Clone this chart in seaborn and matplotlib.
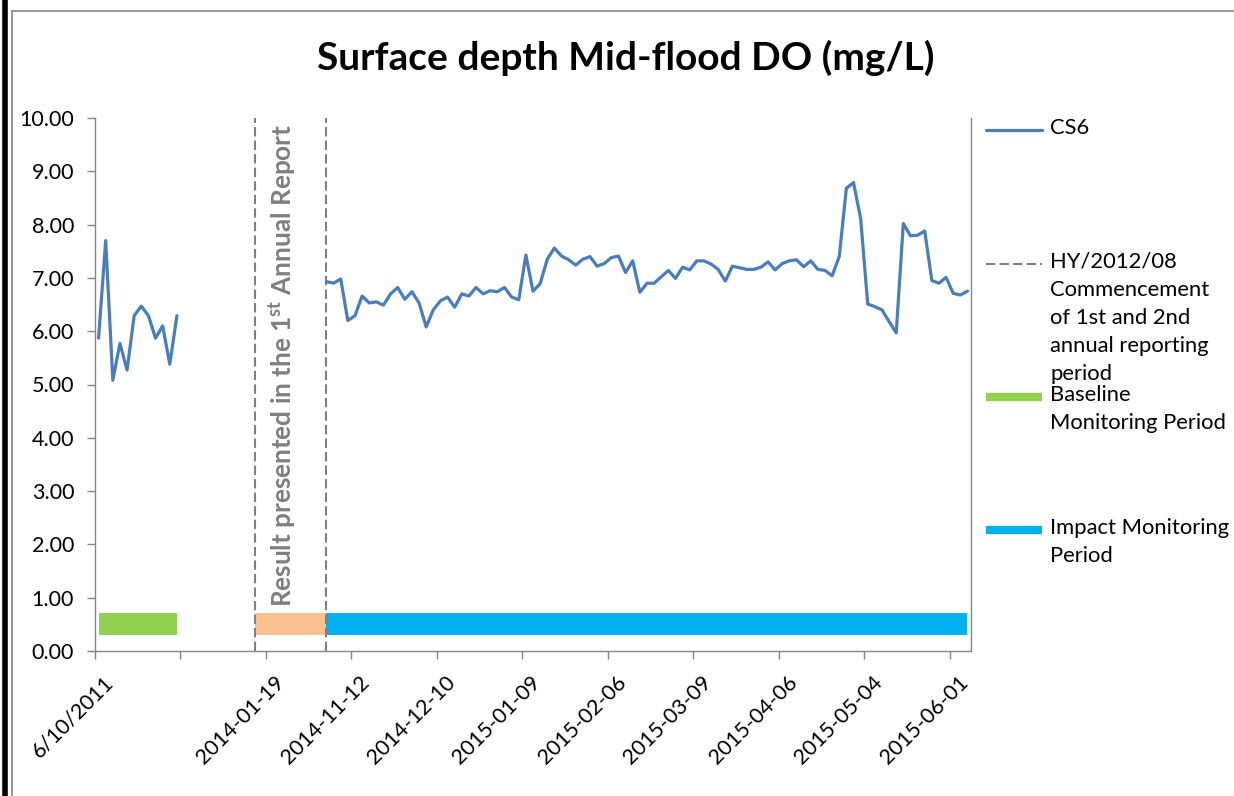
#!/usr/bin/env python
# coding: utf-8
#
import numpy as np
import pandas as pd
import seaborn as sb
from matplotlib import pyplot as plt
from matplotlib.lines import Line2D
from matplotlib.transforms import ScaledTranslation
#
# DO readings (mg/L) at CS6
baseline_do = [5.87, 7.70, 5.08, 5.77, 5.27, 6.29, 6.47, 6.29, 5.87, 6.10, 5.38, 6.29]
impact_do = [6.93, 6.90, 6.98, 6.20, 6.29, 6.66, 6.53, 6.55, 6.49, 6.70,
             6.82, 6.60, 6.74, 6.53, 6.08, 6.40, 6.57, 6.64, 6.45, 6.70,
             6.66, 6.82, 6.70, 6.76, 6.74, 6.82, 6.64, 6.59, 7.43, 6.75,
             6.89, 7.35, 7.56, 7.41, 7.34, 7.24, 7.35, 7.40, 7.22, 7.27,
             7.38, 7.41, 7.10, 7.32, 6.73, 6.90, 6.90, 7.02, 7.14, 6.99,
             7.20, 7.15, 7.32, 7.32, 7.26, 7.16, 6.94, 7.22, 7.19, 7.16,
             7.16, 7.20, 7.30, 7.15, 7.27, 7.32, 7.34, 7.21, 7.32, 7.16,
             7.14, 7.04, 7.40, 8.68, 8.79, 8.12, 6.51, 6.46, 6.40, 6.18,
             5.97, 8.02, 7.79, 7.80, 7.88, 6.95, 6.90, 7.01, 6.71, 6.68,
             6.75]
#
# category axis layout (Excel style: one slot per sampling date)
n_cat = 123
baseline_start = 0
report_start = 22
impact_start = 32
tick_step = 12
tick_labels = ['6/10/2011', '', '2014-01-19', '2014-11-12', '2014-12-10',
               '2015-01-09', '2015-02-06', '2015-03-09', '2015-04-06',
               '2015-05-04', '2015-06-01']
#
sb.set_theme(style="white")
plt.rcParams['font.family'] = ['Lato', 'DejaVu Sans']
plt.rcParams['mathtext.default'] = 'regular'
#
pos_base = np.arange(len(baseline_do)) + baseline_start + 0.5
pos_imp = np.arange(len(impact_do)) + impact_start + 0.5
df = pd.DataFrame({'pos': np.concatenate([pos_base, pos_imp]),
                   'do': baseline_do + impact_do,
                   'seg': ['baseline'] * len(baseline_do) + ['impact'] * len(impact_do)})
#
W, H = 1234, 796
def px(x, y):
    return x / W, 1 - y / H
#
fig = plt.figure(figsize=(W / 100, H / 100), dpi=100)
ax = fig.add_axes([95 / W, 1 - 651 / H, (971 - 95) / W, (651 - 118) / H])
#
# period bars
green, peach, cyan = '#92D050', '#FAC090', '#00B0F0'
periods = [(baseline_start, baseline_start + len(baseline_do) - 1, green),
           (report_start, impact_start, peach),
           (impact_start, impact_start + len(impact_do) - 1, cyan)]
for a, b, c in periods:
    ax.plot([a + 0.5, b + 0.5], [0.5, 0.5], color=c, lw=15.8, solid_capstyle='butt')
#
# reporting period boundaries
ax.vlines([report_start + 0.5, impact_start + 0.5], 0, 10, colors='#808080',
          linestyles=(0, (4.5, 2)), lw=1.5)
ax.text(26.4, 0.83, r'Result presented in the 1$^{st}$ Annual Report', rotation=90,
        ha='center', va='bottom', color='#7F7F7F', fontsize=18.8, fontweight='bold')
#
sb.lineplot(data=df, x='pos', y='do', units='seg', estimator=None,
            color='#4A7EBB', lw=2.3, ax=ax, legend=False)
#
ax.set_xlim(0, n_cat)
ax.set_ylim(0, 10)
ax.set_xticks(np.arange(len(tick_labels)) * tick_step)
ax.set_xticklabels(tick_labels, rotation=45, ha='right', rotation_mode='anchor')
ax.set_yticks(np.arange(0, 11))
ax.set_yticklabels(['%.2f' % v for v in range(11)])
ax.set_xlabel('')
ax.set_ylabel('')
for s in ['left', 'bottom', 'right']:
    ax.spines[s].set_color('#868686')
    ax.spines[s].set_linewidth(1)
ax.spines['top'].set_visible(False)
ax.tick_params(axis='both', direction='out', length=6, width=1, color='#868686',
               labelcolor='black')
ax.tick_params(axis='y', left=True, pad=9, labelsize=15.5)
ax.tick_params(axis='x', bottom=True, pad=9, labelsize=15.5)
shift = ScaledTranslation(8 / 100, 0, fig.dpi_scale_trans)
for lab in ax.get_xticklabels():
    lab.set_transform(lab.get_transform() + shift)
#
fig.text(0.507, 1 - 58 / H, 'Surface depth Mid-flood DO (mg/L)', ha='center', va='center',
         fontsize=28, fontweight='bold', color='black')
#
# legend, drawn by hand to keep Excel spacing
leg = [(130, dict(color='#4A7EBB', lw=2.3), 'CS6'),
       (264, dict(color='#808080', lw=1.5, linestyle=(0, (4.5, 2))),
        'HY/2012/08\nCommencement\nof 1st and 2nd\nannual reporting\nperiod'),
       (397, dict(color=green, lw=6, solid_capstyle='butt'), 'Baseline\nMonitoring Period'),
       (530, dict(color=cyan, lw=6, solid_capstyle='butt'), 'Impact Monitoring\nPeriod')]
for y, kw, txt in leg:
    x0, y0 = px(986, y)
    x1, _ = px(1042, y)
    fig.add_artist(Line2D([x0, x1], [y0, y0], transform=fig.transFigure, **kw))
    tx, ty = px(1050, y - 12)
    fig.text(tx, ty, txt, ha='left', va='top', fontsize=15.8, linespacing=1.5, color='black')
#
# outer frame of the chart area
fig.add_artist(Line2D([px(5, 0)[0]] * 2, [0, 1], color='black', lw=4, transform=fig.transFigure))
fig.add_artist(Line2D([px(12, 0)[0]] * 2, [0, px(0, 11)[1]], color='#868686', lw=1.2,
                      transform=fig.transFigure))
fig.add_artist(Line2D([px(12, 0)[0], 1], [px(0, 11)[1]] * 2, color='#868686', lw=1.2,
                      transform=fig.transFigure))
#
fig.savefig('out.png', dpi=100)
